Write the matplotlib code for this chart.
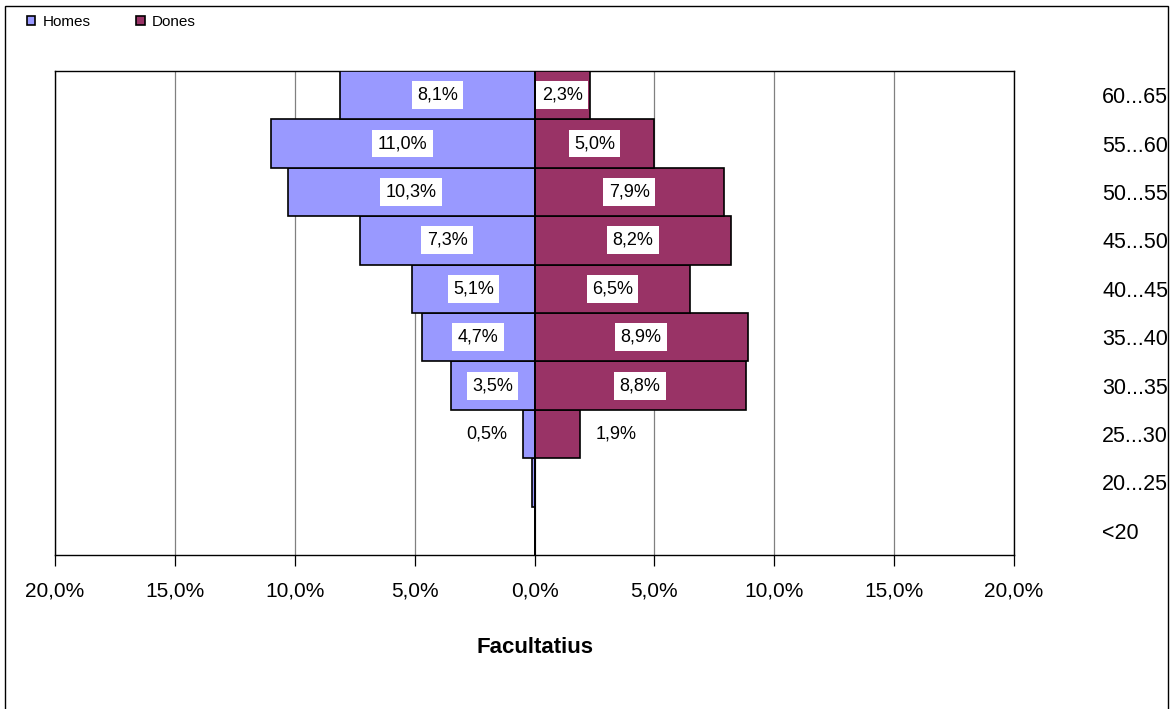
import numpy as np
import matplotlib.pyplot as plt
from matplotlib.patches import Rectangle

plt.rcParams['font.family'] = ['Liberation Sans', 'DejaVu Sans']

# Dades de la piràmide
edats = ['<20', '20...25', '25...30', '30...35', '35...40',
         '40...45', '45...50', '50...55', '55...60', '60...65']
homes = [0.0, 0.1, 0.5, 3.5, 4.7, 5.1, 7.3, 10.3, 11.0, 8.1]
dones = [0.0, 0.0, 1.9, 8.8, 8.9, 6.5, 8.2, 7.9, 5.0, 2.3]
xticks = [-20, -15, -10, -5, 0, 5, 10, 15, 20]

col_homes = '#9999FF'
col_dones = '#993366'

fig = plt.figure(figsize=(11.73, 7.09), dpi=100)
ax = fig.add_axes([0.0469, 0.2172, 0.8176, 0.6827])

y = np.arange(len(edats))
h = -np.array(homes)
d = np.array(dones)

ax.barh(y, h, height=1.0, color=col_homes, edgecolor='black', linewidth=1.2,
        label='Homes', zorder=3)
ax.barh(y, d, height=1.0, color=col_dones, edgecolor='black', linewidth=1.2,
        label='Dones', zorder=3)

def fmt(v):
    return ('%.1f%%' % v).replace('.', ',')

caixa = dict(facecolor='white', edgecolor='none', boxstyle='square,pad=0.3')
for i in range(len(edats)):
    for v, s in ((homes[i], -1), (dones[i], 1)):
        if v < 0.3:
            continue
        if v >= 2.0:
            ax.text(s * v / 2, y[i], fmt(v), ha='center', va='center',
                    fontsize=13, bbox=caixa, zorder=5)
        else:
            ax.annotate(fmt(v), (s * v, y[i]), xytext=(s * 11, 0),
                        textcoords='offset points', va='center',
                        ha='left' if s > 0 else 'right', fontsize=13, zorder=5)

ax.set_xlim(-20, 20)
ax.set_ylim(-0.5, len(edats) - 0.5)

# graella vertical
for xv in xticks:
    ax.axvline(xv, color='#808080', linewidth=0.9, zorder=1)
ax.axvline(0, color='black', linewidth=1.2, zorder=4)

ax.set_xticks(xticks)
ax.set_xticklabels([fmt(abs(v)) for v in xticks], fontsize=15)
ax.tick_params(axis='x', direction='out', length=8, width=0.9, pad=11,
               color='black')

ax.set_yticks(y)
ax.set_yticklabels(edats, fontsize=15.5)
ax.tick_params(axis='y', which='major', left=False, right=False,
               labelleft=False, labelright=True, pad=60)

for sp in ax.spines.values():
    sp.set_color('black')
    sp.set_linewidth(1.0)

ax.set_xlabel('Facultatius', fontsize=16, fontweight='bold', labelpad=26)

leg = fig.legend(loc='center left', bbox_to_anchor=(27 / 1173, 1 - 22 / 709),
                 ncol=2, frameon=False, fontsize=11, borderpad=0,
                 borderaxespad=0, handlelength=0.55, handleheight=0.55,
                 columnspacing=3.0, handletextpad=0.45)

fig.patches.append(Rectangle((5 / 1173, -0.01), 1163 / 1173, 1 - 6 / 709 + 0.01,
                             transform=fig.transFigure, fill=False,
                             edgecolor='black', linewidth=1.0))

fig.savefig('out.png', dpi=100)
